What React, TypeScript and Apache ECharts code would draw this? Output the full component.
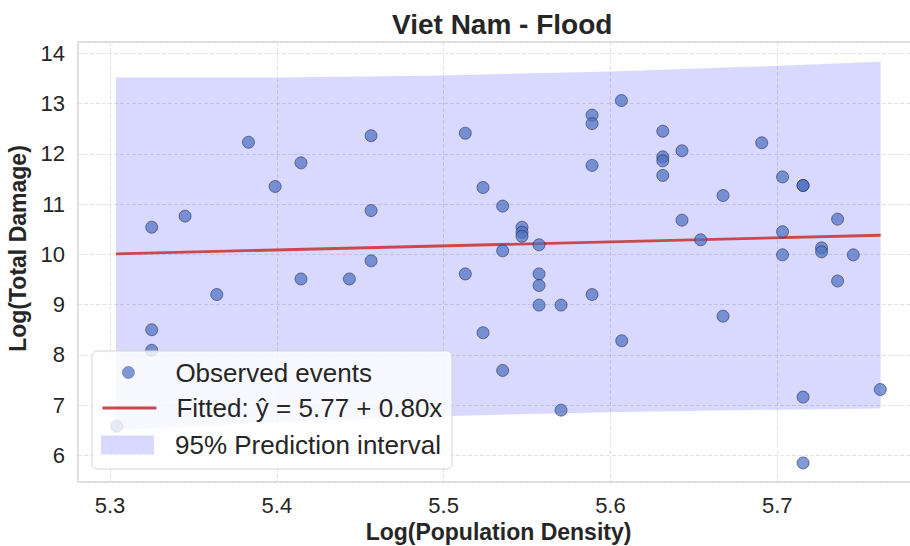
import React, { useEffect, useRef } from "react";
import * as echarts from "echarts";

const FONT = "'Liberation Sans', Arial, sans-serif";

// Observed events: Log(Population Density) vs Log(Total Damage)
const obsX = [
  5.304, 5.325, 5.325, 5.325, 5.345, 5.364, 5.383, 5.399, 5.4145, 5.4145,
  5.4435, 5.4565, 5.4565, 5.4565, 5.513, 5.513, 5.5236, 5.5236, 5.5354, 5.5354,
  5.5354, 5.547, 5.547, 5.547, 5.5572, 5.5572, 5.5572, 5.5572, 5.5704, 5.5704,
  5.589, 5.589, 5.589, 5.589, 5.6066, 5.6068, 5.6314, 5.6314, 5.6314, 5.6314,
  5.6429, 5.6429, 5.6541, 5.6675, 5.6675, 5.6907, 5.7032, 5.7032, 5.7032, 5.7155,
  5.7155, 5.7155, 5.7155, 5.7266, 5.7266, 5.7362, 5.7362, 5.7456, 5.7618,
];
const obsY = [
  6.58, 10.54, 8.5, 8.09, 10.76, 9.2, 12.23, 11.35, 11.82, 9.51,
  9.51, 12.36, 10.87, 9.87, 12.41, 9.61, 11.33, 8.44, 10.96, 10.07,
  7.69, 10.54, 10.44, 10.36, 10.19, 9.61, 9.38, 8.99, 8.99, 6.9,
  12.77, 12.6, 11.77, 9.2, 13.06, 8.28, 12.45, 11.94, 11.86, 11.57,
  12.06, 10.68, 10.29, 11.17, 8.77, 12.22, 11.54, 10.45, 9.99, 11.37,
  11.37, 7.16, 5.85, 10.13, 10.05, 10.7, 9.47, 9.99, 7.31,
];

// Fitted line endpoints
const fitX = [5.3036, 5.762];
const fitY = [10.01, 10.38];

// 95% prediction interval
const bandX = [5.3036, 5.4, 5.5, 5.6, 5.7, 5.762];
const bandUpper = [13.52, 13.52, 13.56, 13.64, 13.75, 13.83];
const bandLower = [6.5, 6.66, 6.78, 6.86, 6.91, 6.93];

// Tick labels
const xTickLabels = ["5.3", "5.4", "5.5", "5.6", "5.7"];
const yTickLabels = ["6", "7", "8", "9", "10", "11", "12", "13", "14"];

const TITLE = "Viet Nam - Flood";
const X_NAME = "Log(Population Density)";
const Y_NAME = "Log(Total Damage)";
const S_OBS = "Observed events";
const S_FIT = "Fitted: ŷ = 5.77 + 0.80x";
const S_PI = "95% Prediction interval";

const TEXT = "#262626";
const GRIDLINE = { color: "#e3e3e3", type: [4, 2] as number[], width: 1 };

export default function App() {
  const ref = useRef<HTMLDivElement>(null);

  useEffect(() => {
    if (!ref.current) return;
    const chart = echarts.init(ref.current, undefined, { renderer: "svg" });

    const legendText = (padLeft: number) => ({
      fontFamily: FONT,
      fontSize: 26,
      color: TEXT,
      padding: [0, 0, 0, padLeft],
    });

    const option: any = {
      animation: false,
      backgroundColor: "#ffffff",
      textStyle: { fontFamily: FONT },
      title: {
        text: TITLE,
        left: 387,
        top: 5,
        textStyle: { fontFamily: FONT, fontSize: 28, fontWeight: "bold", color: TEXT },
      },
      grid: {
        left: 78,
        right: -9,
        top: 42,
        bottom: 64,
        outerBoundsMode: "none",
        containLabel: false,
        show: true,
        backgroundColor: "#ffffff",
        borderColor: "#cfcfcf",
        borderWidth: 1.3,
      },
      xAxis: {
        type: "value",
        min: 5.2808,
        max: 5.785,
        minInterval: 0.1,
        maxInterval: 0.1,
        name: X_NAME,
        nameLocation: "middle",
        nameGap: 38,
        nameTextStyle: { fontFamily: FONT, fontSize: 23, fontWeight: "bold", color: TEXT },
        axisLine: { show: false },
        axisTick: { show: false },
        axisLabel: {
          fontFamily: FONT,
          fontSize: 22,
          color: TEXT,
          margin: 12,
          formatter: (v: number) => {
            const s = v.toFixed(1);
            return Math.abs(v - parseFloat(s)) < 1e-6 && xTickLabels.includes(s) ? s : "";
          },
        },
        splitLine: { show: true, lineStyle: GRIDLINE },
      },
      yAxis: {
        type: "value",
        min: 5.47,
        max: 14.225,
        minInterval: 1,
        maxInterval: 1,
        name: Y_NAME,
        nameLocation: "middle",
        nameGap: 43,
        nameTextStyle: {
          fontFamily: FONT,
          fontSize: 23,
          fontWeight: "bold",
          color: TEXT,
          padding: [0, 0, 0, 27],
        },
        axisLine: { show: false },
        axisTick: { show: false },
        axisLabel: {
          fontFamily: FONT,
          fontSize: 22,
          color: TEXT,
          margin: 13,
          formatter: (v: number) => {
            const s = String(Math.round(v));
            return Math.abs(v - Math.round(v)) < 1e-6 && yTickLabels.includes(s) ? s : "";
          },
        },
        splitLine: { show: true, lineStyle: GRIDLINE },
      },
      legend: [
        {
          data: [{ name: S_OBS, icon: "circle" }],
          orient: "vertical",
          left: 122,
          top: 359.5,
          padding: 0,
          itemWidth: 12,
          itemHeight: 12,
          itemStyle: { borderColor: "#5a6a99", borderWidth: 0.8 },
          textStyle: legendText(36),
          selectedMode: false,
        },
        {
          data: [S_FIT],
          orient: "vertical",
          left: 101,
          top: 395,
          padding: 0,
          itemWidth: 54,
          itemHeight: 19,
          itemStyle: { opacity: 0 },
          lineStyle: { color: "#c9494c", width: 2.8 },
          textStyle: legendText(15),
          selectedMode: false,
        },
        {
          data: [
            {
              name: S_PI,
              icon: "rect",
              itemStyle: { color: "rgba(0,0,255,0.15)", borderWidth: 0 },
            },
          ],
          orient: "vertical",
          left: 101,
          top: 432,
          padding: 0,
          itemWidth: 53,
          itemHeight: 19,
          textStyle: legendText(16),
          selectedMode: false,
        },
      ],
      graphic: [
        {
          type: "rect",
          z: 3,
          silent: true,
          shape: { x: 92, y: 351, width: 360, height: 118, r: 5 },
          style: { fill: "rgba(255,255,255,0.8)", stroke: "#d4d4d4", lineWidth: 1 },
        },
      ],
      series: [
        {
          type: "custom",
          name: S_PI,
          silent: true,
          z: 1,
          itemStyle: { color: "rgba(0,0,255,0.15)" },
          data: bandX.map((x, i) => [x, bandLower[i], bandUpper[i]]),
          encode: { x: 0, y: [1, 2] },
          renderItem: (params: any, api: any) => {
            if (params.dataIndex !== 0) return null;
            const pts: number[][] = [];
            for (let i = 0; i < bandX.length; i++) pts.push(api.coord([bandX[i], bandUpper[i]]));
            for (let i = bandX.length - 1; i >= 0; i--) pts.push(api.coord([bandX[i], bandLower[i]]));
            return {
              type: "polygon",
              shape: { points: pts },
              style: { fill: "rgba(0,0,255,0.15)", stroke: "none" },
            };
          },
        },
        {
          type: "line",
          name: S_FIT,
          data: fitX.map((x, i) => [x, fitY[i]]),
          symbol: "none",
          lineStyle: { color: "#c9494c", width: 2.8 },
          itemStyle: { color: "#c9494c" },
          z: 2,
          silent: true,
        },
        {
          type: "scatter",
          name: S_OBS,
          data: obsX.map((x, i) => [x, obsY[i]]),
          symbol: "circle",
          symbolSize: 12,
          itemStyle: {
            color: "#4c6fc0",
            opacity: 0.7,
            borderColor: "#1e2848",
            borderWidth: 0.8,
          },
          z: 2,
          silent: true,
        },
      ],
    };

    chart.setOption(option);
    return () => chart.dispose();
  }, []);

  return (
    <div
      ref={ref}
      style={{ position: "fixed", left: 0, top: 0, width: 910, height: 546 }}
    />
  );
}
